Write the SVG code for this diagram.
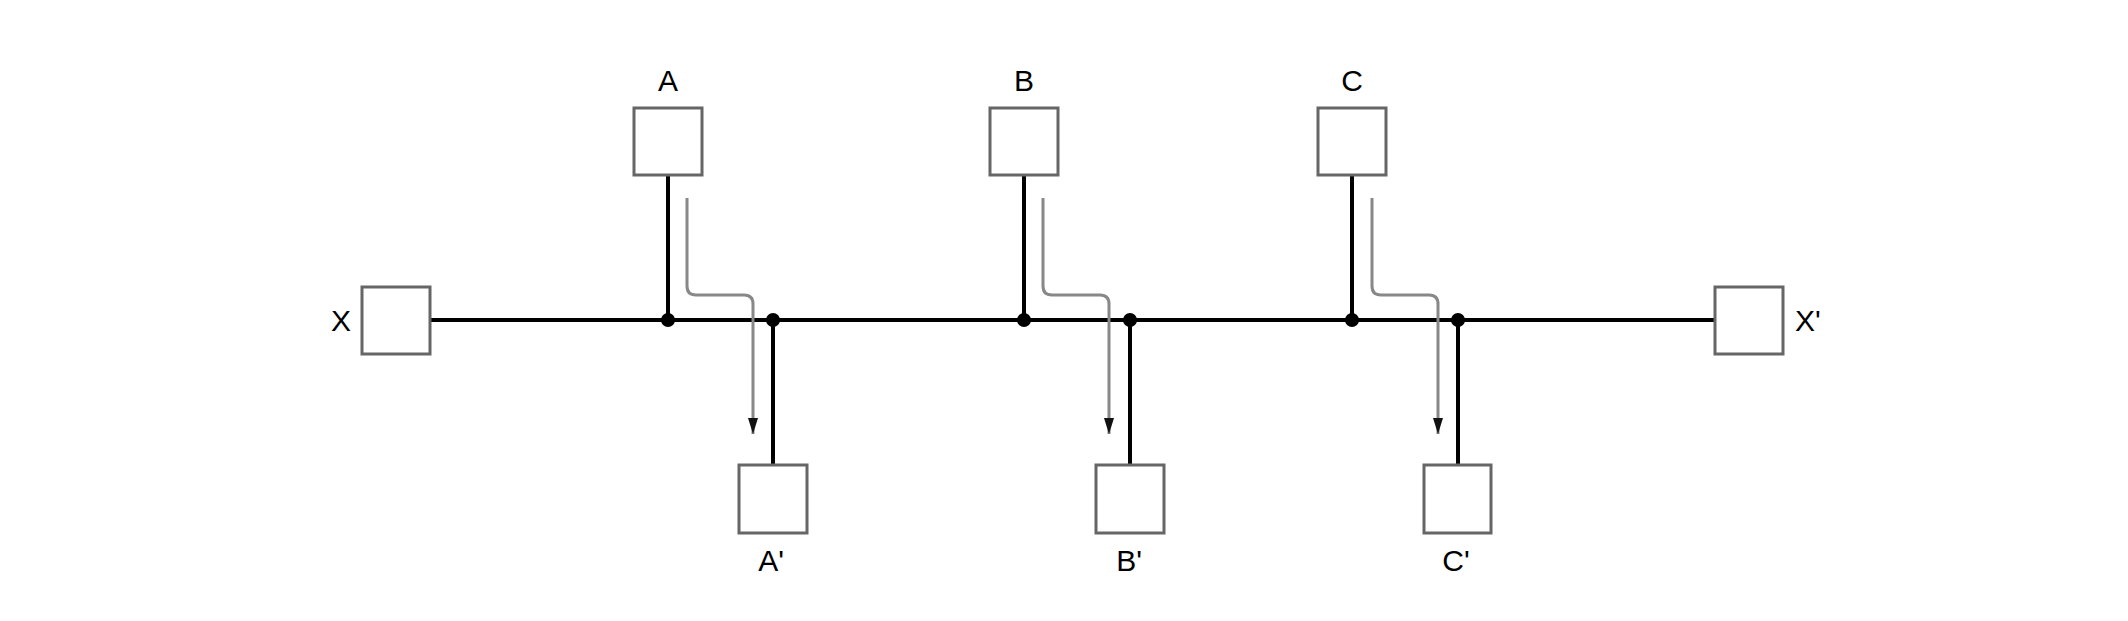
<svg xmlns="http://www.w3.org/2000/svg" width="2128" height="621" viewBox="0 0 2128 621">
<style>
.box{fill:#fff;stroke:#666;stroke-width:3}
.wire{stroke:#000;stroke-width:4;fill:none}
.flow{stroke:#888;stroke-width:3;fill:none}
.dot{fill:#000}
.lbl{font-family:"Liberation Sans",Arial,sans-serif;font-size:30px;fill:#000}
</style>
<defs>
<marker id="arr" markerUnits="userSpaceOnUse" markerWidth="20" markerHeight="12" refX="18" refY="6" orient="auto" viewBox="0 0 20 12">
<path d="M2,1 L18,6 L2,11 Z" fill="#111"/>
</marker>
</defs>
<rect width="2128" height="621" fill="#fff"/>
<g id="connectors">
<line class="wire" x1="430" y1="320" x2="1715" y2="320"/>
<line class="wire" x1="668" y1="175" x2="668" y2="320"/>
<line class="wire" x1="773" y1="320" x2="773" y2="465"/>
<line class="wire" x1="1024" y1="175" x2="1024" y2="320"/>
<line class="wire" x1="1130" y1="320" x2="1130" y2="465"/>
<line class="wire" x1="1352" y1="175" x2="1352" y2="320"/>
<line class="wire" x1="1458" y1="320" x2="1458" y2="465"/>
<path class="flow" d="M687,198 V286 Q687,295 696,295 H744 Q753,295 753,304 V434" marker-end="url(#arr)"/>
<path class="flow" d="M1043,198 V286 Q1043,295 1052,295 H1100 Q1109,295 1109,304 V434" marker-end="url(#arr)"/>
<path class="flow" d="M1372,198 V286 Q1372,295 1381,295 H1429 Q1438,295 1438,304 V434" marker-end="url(#arr)"/>
<circle class="dot" cx="668" cy="320" r="7"/>
<circle class="dot" cx="773" cy="320" r="7"/>
<circle class="dot" cx="1024" cy="320" r="7"/>
<circle class="dot" cx="1130" cy="320" r="7"/>
<circle class="dot" cx="1352" cy="320" r="7"/>
<circle class="dot" cx="1458" cy="320" r="7"/>
</g>
<g id="X"><rect class="box" x="362" y="287" width="68" height="67"/><text class="lbl" x="341" y="331" text-anchor="middle">X</text></g>
<g id="Xp"><rect class="box" x="1715" y="287" width="68" height="67"/><text class="lbl" x="1795" y="331">X'</text></g>
<g id="A"><rect class="box" x="634" y="108" width="68" height="67"/><text class="lbl" x="668" y="91" text-anchor="middle">A</text></g>
<g id="B"><rect class="box" x="990" y="108" width="68" height="67"/><text class="lbl" x="1024" y="91" text-anchor="middle">B</text></g>
<g id="C"><rect class="box" x="1318" y="108" width="68" height="67"/><text class="lbl" x="1352" y="91" text-anchor="middle">C</text></g>
<g id="Ap"><rect class="box" x="739" y="465" width="68" height="68"/><text class="lbl" x="771" y="571" text-anchor="middle">A'</text></g>
<g id="Bp"><rect class="box" x="1096" y="465" width="68" height="68"/><text class="lbl" x="1129" y="571" text-anchor="middle">B'</text></g>
<g id="Cp"><rect class="box" x="1424" y="465" width="67" height="68"/><text class="lbl" x="1456" y="571" text-anchor="middle">C'</text></g>
</svg>
